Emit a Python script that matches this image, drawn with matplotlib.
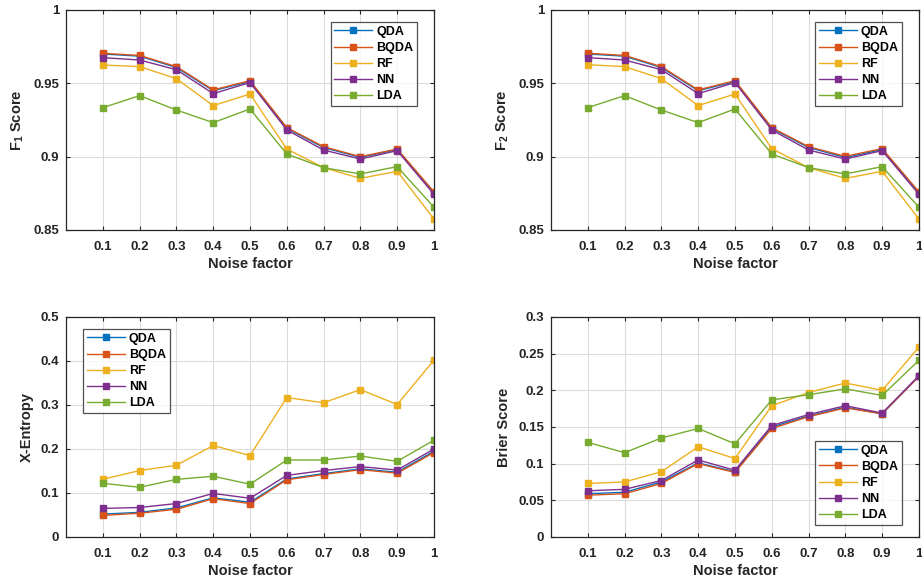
import matplotlib
matplotlib.use('Agg')
import matplotlib.pyplot as plt
import numpy as np

plt.rcParams['font.family'] = ['Liberation Sans', 'DejaVu Sans']
plt.rcParams['font.weight'] = 'bold'
plt.rcParams['mathtext.fontset'] = 'custom'
plt.rcParams['mathtext.rm'] = 'Liberation Sans:bold'
plt.rcParams['mathtext.bf'] = 'Liberation Sans:bold'
plt.rcParams['mathtext.it'] = 'Liberation Sans:bold'

noise = [0.1, 0.2, 0.3, 0.4, 0.5, 0.6, 0.7, 0.8, 0.9, 1.0]
models = ['QDA', 'BQDA', 'RF', 'NN', 'LDA']
colors = ['#0072BD', '#D95319', '#EDB120', '#7E2F8E', '#77AC30']

# F1 score
f1_qda = [0.9700, 0.9685, 0.9608, 0.9450, 0.9512, 0.9193, 0.9062, 0.8995, 0.9048, 0.8755]
f1_bqda = [0.9705, 0.9690, 0.9614, 0.9455, 0.9518, 0.9198, 0.9068, 0.9000, 0.9052, 0.8760]
f1_rf = [0.9625, 0.9614, 0.9532, 0.9348, 0.9427, 0.9052, 0.8925, 0.8852, 0.8900, 0.8575]
f1_nn = [0.9675, 0.9659, 0.9593, 0.9430, 0.9505, 0.9182, 0.9045, 0.8984, 0.9041, 0.8743]
f1_lda = [0.9334, 0.9416, 0.9318, 0.9232, 0.9325, 0.9018, 0.8925, 0.8882, 0.8932, 0.8655]

# F2 score
f2_qda = [0.9700, 0.9685, 0.9608, 0.9450, 0.9512, 0.9193, 0.9062, 0.8995, 0.9048, 0.8755]
f2_bqda = [0.9705, 0.9690, 0.9614, 0.9455, 0.9518, 0.9198, 0.9068, 0.9002, 0.9055, 0.8760]
f2_rf = [0.9627, 0.9614, 0.9532, 0.9348, 0.9427, 0.9055, 0.8925, 0.8852, 0.8900, 0.8575]
f2_nn = [0.9675, 0.9659, 0.9593, 0.9430, 0.9505, 0.9182, 0.9045, 0.8984, 0.9041, 0.8743]
f2_lda = [0.9334, 0.9416, 0.9318, 0.9232, 0.9325, 0.9018, 0.8925, 0.8882, 0.8932, 0.8655]

# cross entropy
xe_qda = [0.052, 0.056, 0.066, 0.089, 0.079, 0.132, 0.144, 0.155, 0.147, 0.195]
xe_bqda = [0.049, 0.054, 0.063, 0.087, 0.076, 0.130, 0.142, 0.153, 0.145, 0.192]
xe_rf = [0.131, 0.151, 0.163, 0.208, 0.185, 0.317, 0.305, 0.335, 0.301, 0.402]
xe_nn = [0.065, 0.067, 0.076, 0.099, 0.088, 0.140, 0.151, 0.160, 0.152, 0.200]
xe_lda = [0.122, 0.113, 0.131, 0.138, 0.120, 0.175, 0.175, 0.184, 0.172, 0.220]

# Brier score
br_qda = [0.059, 0.061, 0.075, 0.101, 0.089, 0.150, 0.165, 0.177, 0.168, 0.219]
br_bqda = [0.057, 0.059, 0.073, 0.100, 0.088, 0.148, 0.164, 0.176, 0.168, 0.219]
br_rf = [0.073, 0.075, 0.089, 0.123, 0.107, 0.179, 0.197, 0.210, 0.200, 0.259]
br_nn = [0.063, 0.065, 0.077, 0.105, 0.091, 0.152, 0.167, 0.179, 0.169, 0.220]
br_lda = [0.129, 0.115, 0.135, 0.148, 0.127, 0.187, 0.194, 0.202, 0.193, 0.241]

panels = [
    ([f1_qda, f1_bqda, f1_rf, f1_nn, f1_lda], r'F$_{1}$ Score', (0.85, 1.0), [0.85, 0.9, 0.95, 1.0],
     ['0.85', '0.9', '0.95', '1'], 'upper right', (0.954, 0.945), [0.0716, 0.6062, 0.3991, 0.3767]),
    ([f2_qda, f2_bqda, f2_rf, f2_nn, f2_lda], r'F$_{2}$ Score', (0.85, 1.0), [0.85, 0.9, 0.95, 1.0],
     ['0.85', '0.9', '0.95', '1'], 'upper right', (0.953, 0.945), [0.5976, 0.6062, 0.3991, 0.3767]),
    ([xe_qda, xe_bqda, xe_rf, xe_nn, xe_lda], 'X-Entropy', (0, 0.5), [0, 0.1, 0.2, 0.3, 0.4, 0.5],
     ['0', '0.1', '0.2', '0.3', '0.4', '0.5'], 'upper left', (0.047, 0.945), [0.0716, 0.0805, 0.3991, 0.3767]),
    ([br_qda, br_bqda, br_rf, br_nn, br_lda], 'Brier Score', (0, 0.3), [0, 0.05, 0.1, 0.15, 0.2, 0.25, 0.3],
     ['0', '0.05', '0.1', '0.15', '0.2', '0.25', '0.3'], 'lower right', (0.953, 0.055), [0.5976, 0.0805, 0.3991, 0.3767]),
]

fig = plt.figure(figsize=(9.22, 5.84), dpi=100)
dark = '#262626'

for series, ylabel, ylim, yticks, yticklabels, loc, anchor, pos in panels:
    ax = fig.add_axes(pos)
    for vals, name, c in zip(series, models, colors):
        ax.plot(noise, vals, '-s', color=c, lw=1.0, markersize=4.5,
                markerfacecolor=c, markeredgecolor=c, label=name)
    ax.set_xlim(0, 1)
    ax.set_ylim(*ylim)
    ax.set_xticks(noise)
    ax.set_xticklabels(['0.1', '0.2', '0.3', '0.4', '0.5', '0.6', '0.7', '0.8', '0.9', '1'])
    ax.set_yticks(yticks)
    ax.set_yticklabels(yticklabels)
    ax.grid(True, color='#dcdcdc', lw=0.8)
    ax.set_axisbelow(True)
    ax.tick_params(direction='in', length=3, width=0.8, colors=dark, labelsize=9.5,
                   top=True, right=True)
    ax.tick_params(axis='x', pad=8)
    ax.tick_params(axis='y', pad=5)
    for lab in ax.get_xticklabels() + ax.get_yticklabels():
        lab.set_fontweight('bold')
    for s in ax.spines.values():
        s.set_color(dark)
        s.set_linewidth(0.9)
    ax.set_xlabel('Noise factor', fontsize=10.5, fontweight='bold', color=dark, labelpad=3)
    ax.set_ylabel(ylabel, fontsize=10.5, fontweight='bold', color=dark, labelpad=5)
    leg = ax.legend(loc=loc, bbox_to_anchor=anchor, fontsize=9, frameon=True, fancybox=False,
                    edgecolor=dark, handlelength=3.0, borderpad=0.3,
                    labelspacing=0.33, borderaxespad=0.0, handletextpad=0.35)
    leg.get_frame().set_linewidth(0.9)
    for t in leg.get_texts():
        t.set_fontweight('bold')

fig.savefig('out.png', dpi=100)
